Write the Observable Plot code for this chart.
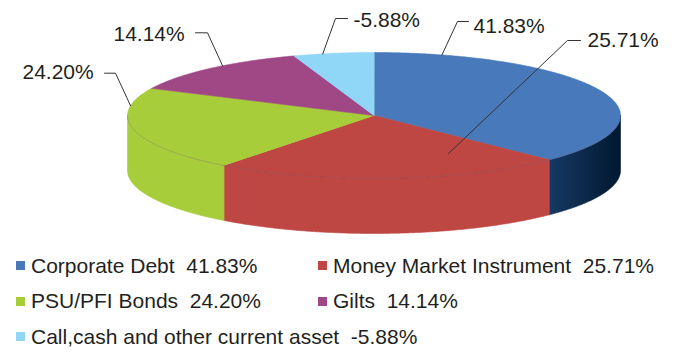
<!DOCTYPE html>
<html>
<head>
<meta charset="utf-8">
<script src="https://cdn.jsdelivr.net/npm/d3@7"></script>
<script src="https://cdn.jsdelivr.net/npm/@observablehq/plot@0.6"></script>
<style>
  body { margin: 0; background: #ffffff; }
  #wrap { position: relative; width: 689px; height: 358px; font-family: "Liberation Sans", Arial, sans-serif; color: #231f20; overflow: hidden; }
  #legend { position: absolute; top: 248px; left: 0; width: 689px; }
  .row { position: relative; height: 35.5px; }
  .item { position: absolute; top: 0; height: 35.5px; display: flex; align-items: center; font-size: 21px; white-space: pre; }
  .sw { width: 9px; height: 9px; margin-right: 6px; flex: none; }
</style>
</head>
<body>
<div id="wrap">
  <div id="chart"></div>
  <div id="legend"></div>
</div>
<script>
// ---- data ----
const categories = ["Corporate Debt", "Money Market Instrument", "PSU/PFI Bonds", "Gilts", "Call,cash and other current asset"];
const values = [41.83, 25.71, 24.20, 14.14, -5.88];
const topColors = ["#4779BB", "#BE4643", "#A7CD3A", "#A04785", "#8FD6F7"];
const sideColors = ["url(#blueSide)", "#BE4643", "#A7CD3A", "#A04785", "#8FD6F7"];

// ---- layout (pie geometry & label placement) ----
const W = 689, H = 245;
const cx = 373.5, cy = 115, rx = 246.5, ry = 63, depth = 55;
// label anchor on pie (angle in degrees clockwise from top, radius fraction), elbow, end of leader, text position
const labelLayout = [
  {angle: 16,    r: 1,     elbow: [457, 21],   end: [468, 21],   text: [473, 26]},
  {angle: 153.4, r: 0.675, elbow: [567, 40],   end: [580, 40],   text: [587, 40]},
  {angle: 279,   r: 1,     elbow: [115, 72.7], end: [104, 72.7], text: [22, 72]},
  {angle: 322.1, r: 1,     elbow: [207, 32.3], end: [195, 32.3], text: [113, 34]},
  {angle: 348,   r: 1,     elbow: [335, 18],   end: [347, 18],   text: [353, 20]}
];

const fmt = v => v.toFixed(2) + "%";
const pt = (a, r = 1, dz = 0) => [cx + r * rx * Math.sin(a), cy - r * ry * Math.cos(a) + dz];
const arcs = d3.pie().sort(null).value(v => Math.abs(v)).startAngle(0).endAngle(2 * Math.PI)(values);

function arcPoints(a0, a1, dz) {
  const n = Math.max(2, Math.ceil((a1 - a0) / (Math.PI / 360)));
  const out = [];
  for (let i = 0; i <= n; i++) out.push(pt(a0 + (a1 - a0) * i / n, 1, dz));
  return out;
}

// side walls (front half only)
const sideRows = [];
arcs.forEach((a, i) => {
  const lo = Math.max(a.startAngle, Math.PI / 2), hi = Math.min(a.endAngle, 3 * Math.PI / 2);
  if (lo < hi) {
    const pts = arcPoints(lo, hi, 0).concat(arcPoints(lo, hi, depth).reverse());
    pts.forEach(([x, y]) => sideRows.push({id: "s" + i, x, y, fill: sideColors[i]}));
  }
});
// top faces
const topRows = [];
arcs.forEach((a, i) => {
  const pts = [[cx, cy]].concat(arcPoints(a.startAngle, a.endAngle, 0));
  pts.forEach(([x, y]) => topRows.push({id: "t" + i, x, y, fill: topColors[i]}));
});
// rim line along front edge of top face
const rimRows = arcPoints(Math.PI / 2, 3 * Math.PI / 2, 0).map(([x, y]) => ({x, y}));

// leader lines and labels
const leaderRows = [];
const labelRows = [];
labelLayout.forEach((L, i) => {
  const [ax, ay] = pt(L.angle * Math.PI / 180, L.r, 0);
  [[ax, ay], L.elbow, L.end].forEach(([x, y]) => leaderRows.push({id: "l" + i, x, y}));
  labelRows.push({x: L.text[0], y: L.text[1], label: fmt(values[i])});
});

const chart = Plot.plot({
  width: W,
  height: H,
  margin: 0,
  x: {domain: [0, W], range: [0, W], axis: null},
  y: {domain: [0, H], range: [0, H], axis: null},
  color: {type: "identity"},
  style: {fontFamily: "'Liberation Sans', Arial, sans-serif", color: "#231f20", background: "transparent"},
  marks: [
    Plot.line(sideRows, {x: "x", y: "y", z: "id", fill: "fill", stroke: "fill", strokeWidth: 0.6, curve: "linear-closed"}),
    Plot.line(topRows, {x: "x", y: "y", z: "id", fill: "fill", stroke: "fill", strokeWidth: 0.6, curve: "linear-closed"}),
    Plot.line(rimRows, {x: "x", y: "y", stroke: "#6a4a5a", strokeOpacity: 0.35, strokeWidth: 0.8}),
    Plot.line(leaderRows, {x: "x", y: "y", z: "id", stroke: "#333333", strokeWidth: 1}),
    Plot.text(labelRows, {x: "x", y: "y", text: "label", textAnchor: "start", lineAnchor: "middle", fontSize: 21, fill: "#231f20"})
  ]
});

// gradient for the dark blue side wall
const svg = d3.select(chart);
const grad = svg.append("defs").append("linearGradient").attr("id", "blueSide")
  .attr("x1", "0").attr("y1", "0").attr("x2", "1").attr("y2", "0");
grad.append("stop").attr("offset", "0%").attr("stop-color", "#163a64");
grad.append("stop").attr("offset", "100%").attr("stop-color", "#001830");

document.getElementById("chart").appendChild(chart);

// ---- legend ----
const legend = d3.select("#legend");
const rowsDef = [[0, 1], [2, 3], [4]];
const colLeft = [16, 318];
rowsDef.forEach(r => {
  const row = legend.append("div").attr("class", "row");
  r.forEach((idx, c) => {
    const item = row.append("div").attr("class", "item").style("left", colLeft[c] + "px");
    item.append("span").attr("class", "sw").style("background", topColors[idx]);
    item.append("span").text(categories[idx] + "  " + fmt(values[idx]));
  });
});
</script>
</body>
</html>
